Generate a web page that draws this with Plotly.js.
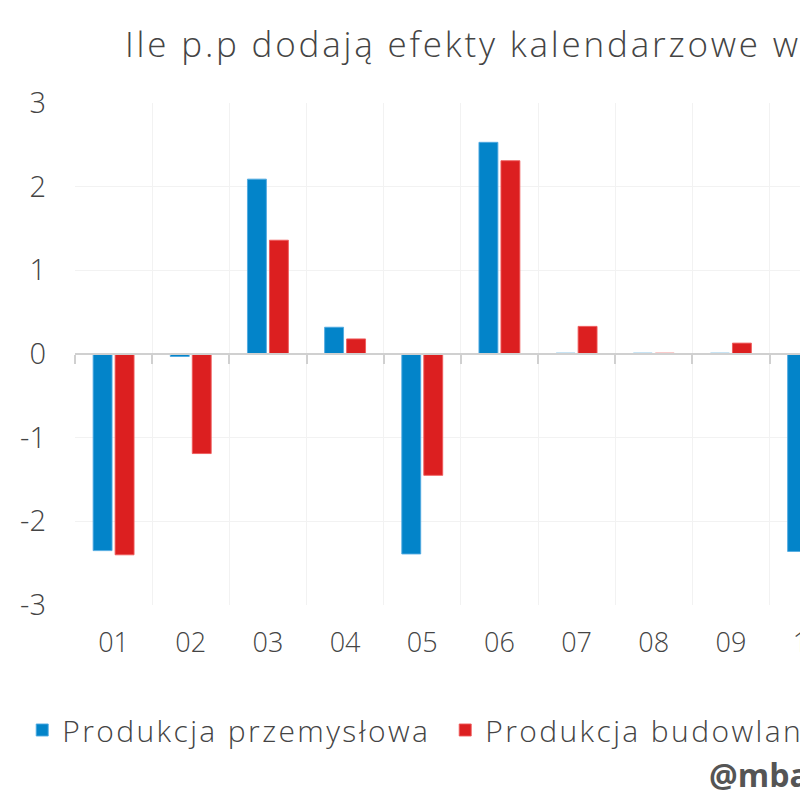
<!DOCTYPE html>
<html><head><meta charset="utf-8">
<script src="https://cdn.plot.ly/plotly-3.0.1.min.js"></script>
<style>
html,body{margin:0;padding:0;overflow:hidden;background:#fff}
.gtitle{letter-spacing:2.8px}
.legendtext{letter-spacing:2.4px}
</style>
</head><body>
<div id="chart" style="width:1100px;height:800px"></div>
<script>
const months = ["01","02","03","04","05","06","07","08","09","10","11","12"];
const przemyslowa = [-2.35, -0.03, 2.09, 0.32, -2.39, 2.53, 0.01, 0.01, 0.01, -2.36, null, null];
const budowlana   = [-2.40, -1.19, 1.36, 0.18, -1.45, 2.31, 0.33, 0.01, 0.13, null, null, null];
const seriesNames = ["Produkcja przemysłowa", "Produkcja budowlano-montażowa"];
const titleText = "Ile p.p dodają efekty kalendarzowe w";
const yTicks = [-3,-2,-1,0,1,2,3];

const FONT = "'Open Sans', Lato, sans-serif";
const txt = "#444";
const W = 1100;

const traces = [
  {type:"bar", x:months, y:przemyslowa, name:seriesNames[0],
   marker:{color:"#0384C9", line:{color:"rgba(80,170,225,0.9)", width:1}}},
  {type:"bar", x:months, y:budowlana, name:seriesNames[1],
   marker:{color:"#DC1F20", line:{color:"rgba(240,90,90,0.9)", width:1}}},
  {type:"bar", x:months, y:months.map(()=>null), xaxis:"x2", showlegend:false, hoverinfo:"skip"}
];

const layout = {
  width: W, height: 800,
  margin:{l:75, r:W-75-926, t:103, b:195},
  paper_bgcolor:"#fff", plot_bgcolor:"#fff",
  font:{family:FONT, color:txt, size:28, weight:300},
  title:{text:titleText, xref:"container", x:125/W, xanchor:"left",
         yref:"container", y:1-45/800, yanchor:"middle",
         font:{family:FONT, size:35, color:txt, weight:300}},
  barmode:"group", bargap:0.43, bargroupgap:0.14,
  showlegend:true,
  legend:{orientation:"h", x:-0.057, xanchor:"left", y:-0.249, yanchor:"middle",
          font:{family:FONT, size:30, color:txt, weight:300},
          entrywidth:378, entrywidthmode:"pixels", traceorder:"normal"},
  xaxis:{type:"category", categoryarray:months, range:[-0.5,11.5],
         tickson:"boundaries", showgrid:true, gridcolor:"#f2f2f2", gridwidth:1,
         ticks:"", showline:false, zeroline:false, ticklabelstandoff:19,
         tickfont:{family:FONT, size:27, color:txt, weight:300}},
  xaxis2:{type:"category", categoryarray:months, range:[-0.5,11.5], overlaying:"x",
          anchor:"free", position:0.5, side:"bottom",
          tickson:"boundaries", ticks:"outside", ticklen:9, tickwidth:2, tickcolor:"#d0d0d0",
          showline:true, linecolor:"#d0d0d0", linewidth:2, showticklabels:false, showgrid:false},
  yaxis:{range:[-3,3], tickvals:yTicks, ticktext:yTicks.map(String),
         showgrid:true, gridcolor:"#f2f2f2", gridwidth:1, zeroline:false,
         ticks:"", ticklabelstandoff:28,
         tickfont:{family:FONT, size:29, color:txt, weight:300}},
  annotations:[{text:"@mbank_research", xref:"paper", yref:"paper",
                x:(707-75)/926, xanchor:"left", y:(605-774)/502, yanchor:"middle",
                showarrow:false, font:{family:"'Open Sans', sans-serif", size:32, color:"#555", weight:700}}]
};

Plotly.newPlot("chart", traces, layout, {displayModeBar:false, staticPlot:true});
</script>
</body></html>
